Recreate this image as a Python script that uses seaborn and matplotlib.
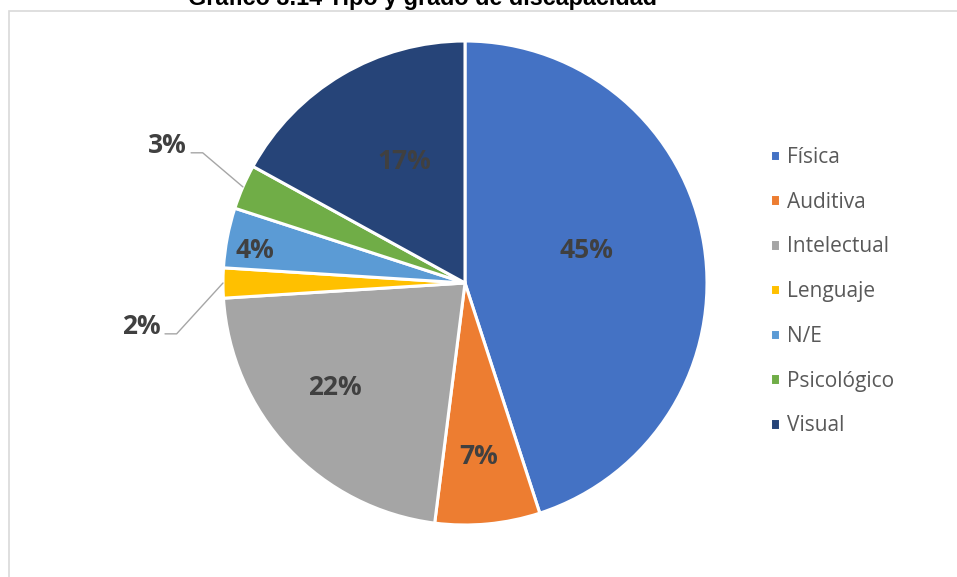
import numpy as np
import matplotlib
matplotlib.use("Agg")
import matplotlib.pyplot as plt
import seaborn as sns
from matplotlib.patches import Rectangle

# Datos del gráfico
titulo = "Gráfico 3.14 Tipo y grado de discapacidad"
categorias = ["Física", "Auditiva", "Intelectual", "Lenguaje", "N/E", "Psicológico", "Visual"]
porcentajes = [45, 7, 22, 2, 4, 3, 17]

# Estilo
colores = ["#4472C4", "#ED7D31", "#A5A5A5", "#FFC000", "#5B9BD5", "#70AD47", "#264478"]
# distancia de la etiqueta al centro (en radios); None = fuera con línea guía
dist_etiqueta = [0.52, 0.72, 0.69, None, 0.88, None, 0.56]
# giro de la etiqueta respecto al ángulo medio de la porción (grados)
giro_etiqueta = [6, -1, -4.5, 10, 2, -3, -4]

sns.set_style("white")
plt.rcParams["font.family"] = ["Open Sans", "DejaVu Sans"]

W, H = 957, 577
cx, cy, R = 465, 283, 242  # centro y radio en píxeles

fig = plt.figure(figsize=(W / 100, H / 100), dpi=100)
ax = fig.add_axes([0, 0, 1, 1])

wedges, _ = ax.pie(porcentajes, colors=colores, startangle=90, counterclock=False,
                   wedgeprops=dict(edgecolor="white", linewidth=2.2))
ax.set_xlim(-cx / R, (W - cx) / R)
ax.set_ylim(-(H - cy) / R, cy / R)
ax.set_aspect("auto")
ax.axis("off")

# Etiquetas de porcentaje
for w, p, d, g in zip(wedges, porcentajes, dist_etiqueta, giro_etiqueta):
    medio = np.deg2rad((w.theta1 + w.theta2) / 2)
    texto = f"{p}%"
    if d is not None:
        a = medio + np.deg2rad(g)
        ax.text(d * np.cos(a), d * np.sin(a), texto, ha="center", va="center",
                fontsize=19, fontweight="bold", color="#404040")
    else:
        x0, y0 = np.cos(medio), np.sin(medio)
        a = medio + np.deg2rad(g)
        x1, y1 = 1.21 * np.cos(a), 1.21 * np.sin(a)
        x2 = x1 - 0.048
        ax.plot([x0, x1, x2], [y0, y1, y1], color="#A6A6A6", lw=1)
        ax.text(x2 - 0.02, y1, texto, ha="right", va="baseline",
                fontsize=19, fontweight="bold", color="#404040")

# Leyenda
fig.legend(wedges, categorias, loc="center left", bbox_to_anchor=(770 / W, 1 - 291.5 / H),
           frameon=False, fontsize=15, labelcolor="#595959", borderpad=0, borderaxespad=0,
           handlelength=0.48, handleheight=0.48, handletextpad=0.35, labelspacing=1.14)

# Marco del gráfico (recortado)
fig.add_artist(Rectangle((9 / W, -0.1), 1.0, 1 - 11 / H + 0.1, transform=fig.transFigure,
                         fill=False, edgecolor="#D9D9D9", lw=1.2, clip_on=False))

# Título (recortado en la parte superior)
fig.text(423 / W, 1 - 5 / H, titulo, ha="center", va="baseline", fontsize=16.8,
         fontweight="bold", family=["Liberation Sans", "DejaVu Sans"], color="black")

fig.savefig("out.png", dpi=100)
